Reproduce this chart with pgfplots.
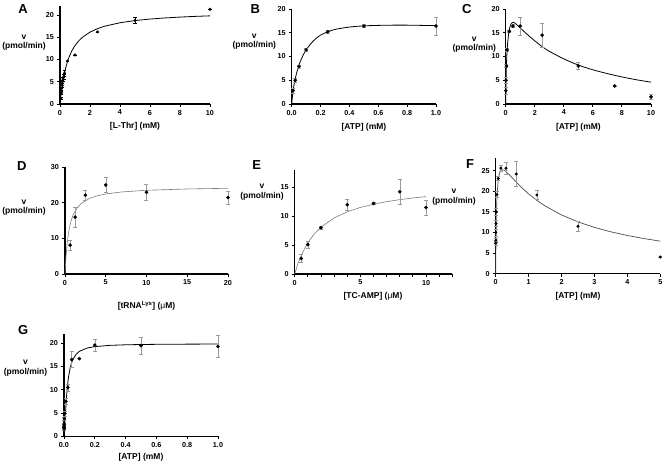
\documentclass[border=0pt]{standalone}
\usepackage{pgfplots}
\pgfplotsset{compat=1.18}
\usepackage{fontspec}
\setmainfont{Liberation Sans}
\definecolor{ebar}{HTML}{9A9A9A}
\definecolor{fitgray}{HTML}{7A7A7A}
\pgfplotsset{
  prism/.style={
    scale only axis, clip=false,
    axis x line*=bottom, axis y line*=left,
    axis line style={line width=1.1pt,-},
    tick style={line width=0.9pt,black},
    tick align=outside, major tick length=3pt, minor tick length=3pt,
    ticklabel style={font=\bfseries\fontsize{7.2}{8}\selectfont},
    /pgf/number format/assume math mode=true,
    xticklabel style={yshift=0.5pt},
    yticklabel style={xshift=0.5pt},
    anchor=south west,
  },
  dec1/.style={xticklabel style={/pgf/number format/.cd,fixed,fixed zerofill,precision=1}},
  pts/.style={only marks, mark=*, mark size=1.6pt, black,
    error bars/y dir=both, error bars/y explicit,
    error bars/error bar style={ebar,line width=0.5pt},
    error bars/error mark options={rotate=90,ebar,mark size=2pt,line width=0.5pt}},
}
\newcommand{\vlab}{\bfseries\fontsize{8.5}{9.5}\selectfont}
\begin{document}
\begin{tikzpicture}
\useasboundingbox (0,0) rectangle (665pt,467pt);
% ---------------- A
\begin{axis}[prism, at={(60pt,363pt)}, width=150pt, height=97.9pt,
  xmin=0, xmax=10, ymin=0, ymax=22, xtick={0,2,4,6,8,10}, ytick={0,5,10,15,20}]
\addplot[black, line width=0.8pt] coordinates {(0,0)(0.025,0.84)(0.05,1.615)(0.1,3.0)(0.15,4.2)(0.2,5.25)(0.3,7.0)(0.4,8.4)(0.5,9.545)(0.6,10.5)(0.75,11.667)(0.8,12.0)(1,13.125)(1.25,14.19)(1.5,15.0)(2,16.15)(2.5,16.94)(3,17.5)(4,18.26)(5,18.75)(6,19.09)(7,19.34)(8,19.53)(9,19.69)(10,19.81)};
\addplot[only marks, mark=*, mark size=1.3pt, black,
  error bars/y dir=both, error bars/y explicit, error bars/error bar style={black,line width=0.5pt},
  error bars/error mark options={rotate=90,black,mark size=1.8pt,line width=0.5pt}]
  table[x=x,y=y,y error=e,row sep=\\]{
  x y e \\ 0.05 1.3 0.2 \\ 0.1 2.5 0.3 \\ 0.1 3.5 0.3 \\ 0.15 4.2 0.4 \\ 0.15 5.0 0.4 \\ 0.2 5.6 0.5 \\ 0.25 6.1 0.5 \\ 0.3 6.9 0.6 \\ 0.5 9.7 0 \\ 1.0 11.0 0 \\ 2.5 16.2 0 \\ 5 18.8 0.6 \\ 10 21.3 0 \\};
\end{axis}
% ---------------- B
\begin{axis}[prism, dec1, at={(291.7pt,363pt)}, width=144.3pt, height=95pt,
  xmin=0, xmax=1, ymin=0, ymax=20, xtick={0,0.2,0.4,0.6,0.8,1.0}, ytick={0,5,10,15,20}]
\addplot[black, line width=0.8pt, smooth] coordinates {(0,0)(0.01,2.9)(0.025,5.4)(0.05,8.2)(0.075,10.0)(0.1,11.4)(0.15,13.3)(0.2,14.5)(0.25,15.2)(0.3,15.7)(0.4,16.2)(0.5,16.45)(0.6,16.55)(0.7,16.6)(0.8,16.6)(0.9,16.55)(1.0,16.5)};
\addplot[pts] table[x=x,y=y,y error=e,row sep=\\]{
  x y e \\ 0.01 2.8 0.5 \\ 0.025 5.0 0.5 \\ 0.05 7.9 0.3 \\ 0.1 11.4 0.3 \\ 0.25 15.2 0.3 \\ 0.5 16.4 0.3 \\ 1.0 16.4 1.95 \\};
\end{axis}
% ---------------- C
\begin{axis}[prism, at={(505.7pt,363pt)}, width=145.3pt, height=95pt,
  xmin=0, xmax=10, ymin=0, ymax=20, xtick={0,2,4,6,8,10}, ytick={0,5,10,15,20}]
\addplot[black, line width=0.8pt, smooth] coordinates {(0,0)(0.025,5)(0.05,8)(0.1,11.5)(0.2,14.8)(0.3,16.3)(0.4,17.0)(0.5,17.2)(0.6,17.1)(0.8,16.6)(1.0,16.0)(1.5,14.6)(2.0,13.3)(2.5,12.1)(3.0,11.1)(4.0,9.5)(5.0,8.2)(6.0,7.2)(7.0,6.4)(8.0,5.7)(9.0,5.1)(10,4.6)};
\addplot[pts] table[x=x,y=y,y error=e,row sep=\\]{
  x y e \\ 0.01 2.8 0.8 \\ 0.025 5.0 0.7 \\ 0.05 8.0 0.3 \\ 0.1 11.4 0.3 \\ 0.25 15.3 0.3 \\ 0.5 16.4 0.3 \\ 1 16.4 1.9 \\ 2.5 14.5 2.55 \\ 5 8.0 0.75 \\ 7.5 3.8 0 \\ 10 1.5 0.5 \\};
\end{axis}
% ---------------- D
\begin{axis}[prism, at={(65pt,193pt)}, width=163pt, height=106.7pt,
  xmin=0, xmax=20, ymin=0, ymax=30, xtick={0,5,10,15,20}, ytick={0,10,20,30}]
\addplot[fitgray, line width=0.6pt] coordinates {(0,0)(0.1,4.22)(0.25,8.39)(0.5,12.53)(0.75,14.99)(1,16.62)(1.5,18.65)(2,19.86)(3,21.25)(4,22.01)(5,22.50)(7,23.08)(10,23.54)(15,23.91)(20,24.10)};
\addplot[pts] table[x=x,y=y,y error=e,row sep=\\]{
  x y e \\ 0.625 8.1 1.5 \\ 1.25 16.0 2.75 \\ 2.5 22.2 1.35 \\ 5 25.0 2.15 \\ 10 23.0 2.35 \\ 20 21.5 1.9 \\};
\end{axis}
% ---------------- E
\begin{axis}[prism, at={(294.7pt,193pt)}, width=157.6pt, height=104pt,
  xmin=0, xmax=12, ymin=0, ymax=18, xtick={0,5,10}, minor xtick={1,2,3,4,6,7,8,9,11,12}, ytick={0,5,10,15}]
\addplot[fitgray, line width=0.6pt] coordinates {(0,0)(0.25,1.82)(0.5,3.26)(1,5.42)(1.5,6.96)(2,8.10)(3,9.70)(4,10.76)(5,11.52)(6,12.08)(7,12.52)(8,12.87)(9,13.16)(10,13.40)};
\addplot[pts] table[x=x,y=y,y error=e,row sep=\\]{
  x y e \\ 0.5 2.7 0.65 \\ 1 5.1 0.6 \\ 2 8.0 0.3 \\ 4 12.0 0.95 \\ 6 12.2 0.2 \\ 8 14.25 2.1 \\ 10 11.5 1.3 \\};
\end{axis}
% ---------------- F
\begin{axis}[prism, at={(495.7pt,193.3pt)}, width=164.6pt, height=115.4pt,
  xmin=0, xmax=5, ymin=0, ymax=28, xtick={0,1,2,3,4,5}, ytick={0,5,10,15,20,25}]
\addplot[black!70, line width=0.7pt] coordinates {(0,0)(0.005,5.19)(0.01,8.90)(0.02,13.81)(0.04,18.97)(0.08,23.02)(0.12,24.48)(0.16,25.04)(0.2,25.20)(0.25,25.11)(0.3,24.85)(0.4,24.12)(0.5,23.28)(0.6,22.43)(0.8,20.82)(1.0,19.37)(1.25,17.79)(1.5,16.44)(2,14.25)(2.5,12.57)(3,11.24)(3.5,10.16)(4,9.27)(4.5,8.53)(5,7.89)};
\addplot[pts, mark size=1.3pt] table[x=x,y=y,y error=e,row sep=\\]{
  x y e \\ 0.0012 7.4 0.4 \\ 0.0024 8.1 0.5 \\ 0.0049 10.0 0.8 \\ 0.0098 12.2 0.8 \\ 0.0195 15.0 0.8 \\ 0.039 19.2 0.7 \\ 0.078 23.1 0.5 \\ 0.156 25.6 0.7 \\ 0.3125 25.6 1.4 \\ 0.625 24.2 3.0 \\ 1.25 19.1 1.15 \\ 2.5 11.5 1.15 \\ 5 4.05 0 \\};
\end{axis}
% ---------------- G
\begin{axis}[prism, dec1, at={(64pt,30.7pt)}, width=154pt, height=102.3pt,
  xmin=0, xmax=1, ymin=0, ymax=22, xtick={0,0.2,0.4,0.6,0.8,1.0}, ytick={0,5,10,15,20}]
\addplot[black, line width=0.8pt] coordinates {(0,0)(0.0025,0.84)(0.005,2.21)(0.0075,3.72)(0.01,5.20)(0.015,7.84)(0.02,9.95)(0.025,11.60)(0.03,12.89)(0.04,14.70)(0.05,15.88)(0.06,16.69)(0.08,17.69)(0.1,18.27)(0.15,18.98)(0.2,19.29)(0.3,19.56)(0.4,19.68)(0.5,19.74)(0.6,19.78)(0.8,19.82)(1.0,19.84)};
\addplot[pts] table[x=x,y=y,y error=e,row sep=\\]{
  x y e \\ 0.0002 1.6 0.3 \\ 0.0004 1.9 0.3 \\ 0.0008 2.2 0.3 \\ 0.0016 2.6 0.3 \\ 0.003 3.8 0.4 \\ 0.005 4.9 0.5 \\ 0.0125 7.5 0.7 \\ 0.025 10.5 0.8 \\ 0.05 16.5 1.7 \\ 0.1 16.7 0 \\ 0.2 19.6 1.25 \\ 0.5 19.5 1.8 \\ 1.0 19.3 2.35 \\};
\end{axis}
% ---------------- text
\begin{scope}[every node/.style={font=\bfseries\fontsize{13}{14}\selectfont}]
\node at (23pt,457.5pt) {A};
\node at (255.3pt,457.5pt) {B};
\node at (466.7pt,457.5pt) {C};
\node at (21.7pt,301pt) {D};
\node at (256.7pt,302.3pt) {E};
\node at (470pt,303pt) {F};
\node at (23.3pt,137pt) {G};
\end{scope}
\begin{scope}[every node/.style={align=center, inner sep=0pt, font=\vlab}]
\node at (24pt,424.2pt) {v\\(pmol/min)};
\node at (254.3pt,425.5pt) {v\\(pmol/min)};
\node at (474.3pt,422.3pt) {v\\(pmol/min)};
\node at (24pt,259.2pt) {v\\(pmol/min)};
\node at (262pt,275pt) {v\\(pmol/min)};
\node at (454pt,270pt) {v\\(pmol/min)};
\node at (25.5pt,98.7pt) {v\\(pmol/min)};
\node at (135pt,340.3pt) {[L-Thr] (mM)};
\node at (363.9pt,339.3pt) {[ATP] (mM)};
\node at (578.4pt,339.3pt) {[ATP] (mM)};
\node at (146.5pt,161pt) {[tRNA\textsuperscript{Lys}] ({\mdseries μ}M)};
\node at (373pt,170.3pt) {[TC-AMP] ({\mdseries μ}M)};
\node at (578pt,170.3pt) {[ATP] (mM)};
\node at (141pt,9.3pt) {[ATP] (mM)};
\end{scope}
\end{tikzpicture}
\end{document}
